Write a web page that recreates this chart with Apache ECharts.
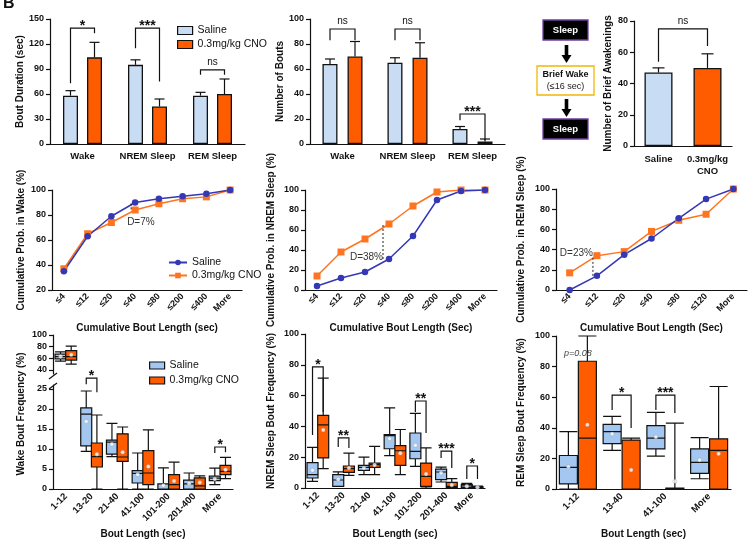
<!DOCTYPE html>
<html>
<head>
<meta charset="utf-8">
<script src="https://cdn.jsdelivr.net/npm/echarts@6/dist/echarts.min.js"></script>
<style>
  html, body { margin: 0; padding: 0; background: #fff; }
  #chart { width: 753px; height: 540px; }
</style>
</head>
<body>
<div id="chart"></div>
<script>
// ---------- data ----------
// top row: mean +/- sem
const stateCats = ['Wake', 'NREM Sleep', 'REM Sleep'];
const durSaline = [58, 95, 58];
const durSalineSem = [6, 6, 4];
const durCno = [104, 45, 60];
const durCnoSem = [18, 9, 18];
const boutSaline = [64, 65, 12];
const boutSalineSem = [4, 4, 2];
const boutCno = [70, 69, 2];
const boutCnoSem = [12, 12, 2];
const awakeCats = ['Saline', '0.3mg/kg\nCNO'];
const awakeVals = [47, 50];
const awakeSem = [3, 9];

// middle row: cumulative probability (%)
const cumCats = ['≤4', '≤12', '≤20', '≤40', '≤80', '≤200', '≤400', 'More'];
const cumRemCats = ['≤4', '≤12', '≤20', '≤40', '≤80', '≤120', 'More'];
const cumWakeSaline = [35, 63, 79, 90, 93, 95, 97, 100];
const cumWakeCno = [37, 65, 74, 84, 89, 93, 94.5, 100];
const cumNremSaline = [4, 12, 18, 31, 54, 90, 99, 100];
const cumNremCno = [14, 38, 51, 66, 84, 98, 100, 100];
const cumRemSaline = [0, 14, 35, 51, 71, 90, 100];
const cumRemCno = [17, 34, 38, 58, 69, 75, 100];

// bottom row: boxes [min, Q1, median, Q3, max] and means
const binCats = ['1-12', '13-20', '21-40', '41-100', '101-200', '201-400', 'More'];
const remBinCats = ['1-12', '13-40', '41-100', 'More'];
const wakeShortSaline = [[55, 59, 63, 67, 71]];
const wakeShortCno = [[50, 57, 63, 73, 81]];
const wakeBoxSaline = [
  [9.4, 10.8, 18.7, 20.3, 24.5], [8.1, 8.7, 11.7, 12.2, 16.4], [0, 1.5, 3.9, 4.6, 9.0],
  [0, 0, 0, 1.3, 5.3], [0, 0, 1.3, 2.2, 4.0], [1.1, 2.1, 2.7, 3.2, 5.2]
];
const wakeBoxCno = [
  [0, 5.5, 8.1, 11.5, 18.5], [0, 6.9, 8.0, 13.8, 15.5], [0, 1.1, 4.0, 9.6, 14.8],
  [0, 0, 1.1, 3.6, 6.7], [0, 0, 0.8, 2.8, 3.3], [2.6, 3.6, 4.4, 5.9, 7.9]
];
const wakeMeanSaline = [63, 16.9, 11.2, 3.6, 0.9, 1.4, 2.5];
const wakeMeanCno = [66, 8.7, 9.2, 5.6, 2.0, 1.6, 4.8];
const nremBoxSaline = [
  [4.3, 6.5, 8.7, 16.5, 26.4], [1, 1.1, 5.2, 8.7, 10.5], [8.7, 11.5, 13.4, 14.7, 20.1],
  [21, 25.5, 34, 34.6, 52], [14.1, 19, 23.8, 35.7, 48.5], [3.9, 5.4, 10.4, 12.3, 13.6],
  [0, 0.3, 1.3, 2.2, 3]
];
const nremBoxCno = [
  [12.6, 19.5, 41, 47.2, 71.4], [8.2, 10.2, 12.6, 14.3, 22.7], [8.7, 13.4, 15.2, 16.2, 27],
  [8.7, 14.7, 24.2, 27.5, 38], [0, 1.1, 7.6, 16.2, 26], [0, 0.4, 1.1, 3.7, 6.1],
  [0, 0, 0.4, 0.9, 1.2]
];
const nremMeanSaline = [11.5, 5.5, 13, 32, 27.7, 9.7, 1.2];
const nremMeanCno = [37.7, 13, 15, 22.5, 9.1, 1.9, 0.5];
const remBoxSaline = [[0, 3.3, 14.1, 21.9, 37.5], [25.2, 29.7, 37.5, 42.3, 47.5], [21.5, 26.2, 33.2, 41.4, 50.1], [6.7, 10.2, 17.4, 26.2, 33.6]];
const remBoxCno = [[0, 0, 33.2, 83.5, 100], [0, 0, 0, 32, 33.2], [0, 0, 0, 0.6, 43], [0, 0, 25.3, 32.8, 67]];
const remMeanSaline = [14.5, 36, 34, 19];
const remMeanCno = [42, 12.4, 5, 23];

// significance brackets: [leftCat, rightCat, top, leftLegEnd, rightLegEnd]
const durSig = [[0, 0, 139, 73, 133], [1, 1, 139, 115, 75], [2, 2, 89, 83, 83]];
const durSigText = ['*', '***', 'ns'];
const boutSig = [[0, 0, 92, 83, 83], [1, 1, 92, 83, 83], [2, 2, 24, 19, 3]];
const boutSigText = ['ns', 'ns', '***'];
const awakeSig = [[0, 1, 75, 54, 64]];
const awakeSigText = ['ns'];
const wakeSig = [[1, 1, 27.7, 26.2, 24.2], [6, 6, 10.5, 9, 9.2]];
const wakeSigText = ['*', '*'];
const nremSig = [[0, 0, 78.6, 34.4, 49.4], [1, 1, 32.5, 26.6, 26], [4, 4, 56.5, 49.4, 35.7], [5, 5, 24, 19.5, 13], [6, 6, 14.3, 5.8, 5.8]];
const nremSigText = ['*', '**', '**', '***', '*'];
const remSig = [[1, 1, 61.4, 51.6, 39.9], [2, 2, 61.4, 51.6, 49.7]];
const remSigText = ['*', '***'];

// ---------- chart ----------
const chart = echarts.init(document.getElementById('chart'));

const INK = '#111';
const F = '"Liberation Sans", Arial, sans-serif';
const SAL_BAR = '#C8DCF4';
const SAL_BOX = '#A3C7F1';
const CNO = '#FF5C00';
const BLUE = '#3438B4';
const ORANGE = '#FF7420';

const grids = [
  { left: 50, top: 19, width: 195, height: 125 },
  { left: 310, top: 19, width: 195, height: 125 },
  { left: 634, top: 21, width: 98, height: 125 },
  { left: 52, top: 190, width: 190, height: 100 },
  { left: 305, top: 190, width: 192, height: 100 },
  { left: 556, top: 189, width: 191, height: 101 },
  { left: 53, top: 335, width: 180, height: 39 },
  { left: 53, top: 385, width: 180, height: 104 },
  { left: 305, top: 334, width: 180, height: 154 },
  { left: 556, top: 336, width: 175, height: 153 }
].map(g => Object.assign({ outerBoundsMode: 'none' }, g));

const boldName = { color: INK, fontFamily: F, fontWeight: 'bold', fontSize: 10 };

function xCat(gi, data, label, extra) {
  return Object.assign({
    type: 'category', gridIndex: gi, data,
    axisLine: { lineStyle: { color: INK, width: 1.2 } },
    axisTick: { alignWithLabel: true, length: 4, lineStyle: { color: INK, width: 1.2 } },
    axisLabel: Object.assign({ color: INK, fontFamily: F, fontWeight: 'bold', fontSize: 9.5, margin: 6, interval: 0 }, label),
    nameLocation: 'middle', nameTextStyle: boldName
  }, extra);
}

function yVal(gi, min, max, interval, name, gap, extra) {
  return Object.assign({
    type: 'value', gridIndex: gi, min, max, interval,
    name, nameLocation: 'middle', nameGap: gap, nameTextStyle: boldName,
    axisLine: { show: true, lineStyle: { color: INK, width: 1.2 } },
    axisTick: { show: true, length: 4, lineStyle: { color: INK, width: 1.2 } },
    axisLabel: { color: INK, fontFamily: F, fontWeight: 'bold', fontSize: 9, margin: 6 },
    splitLine: { show: false }
  }, extra);
}

const rot2 = { rotate: 45, fontSize: 9, margin: 5 };
const rot3 = { rotate: 45, fontSize: 9.5, margin: 6 };

const xAxes = [
  xCat(0, stateCats, { margin: 7 }),
  xCat(1, stateCats, { margin: 7 }),
  xCat(2, awakeCats, { margin: 7, lineHeight: 12 }),
  xCat(3, cumCats, rot2, { name: 'Cumulative Bout Length (sec)', nameGap: 33 }),
  xCat(4, cumCats, rot2, { name: 'Cumulative Bout Length (Sec)', nameGap: 33 }),
  xCat(5, cumRemCats, rot2, { name: 'Cumulative Bout Length (Sec)', nameGap: 33 }),
  xCat(6, binCats, {}, { show: false }),
  xCat(7, binCats, rot3, { name: 'Bout Length (sec)', nameGap: 40 }),
  xCat(8, binCats, rot3, { name: 'Bout Length (sec)', nameGap: 41 }),
  xCat(9, remBinCats, rot3, { name: 'Bout Length (sec)', nameGap: 40 })
];

const yAxes = [
  yVal(0, 0, 150, 30, 'Bout Duration (sec)', 15),
  yVal(1, 0, 100, 20, 'Number of Bouts', 15),
  yVal(2, 0, 80, 20, 'Number of Brief Awakenings', 21),
  yVal(3, 20, 100, 20, 'Cumulative Prob. in Wake (%)', 26),
  yVal(4, 0, 100, 20, 'Cumulative Prob. in NREM Sleep (%)', 29),
  yVal(5, 0, 100, 20, 'Cumulative Prob. in REM Sleep (%)', 30),
  yVal(6, 33, 100, null, '', 0, {
    axisLabel: { color: INK, fontFamily: F, fontWeight: 'bold', fontSize: 9, margin: 6, customValues: [40, 60, 80, 100] },
    axisTick: { show: true, length: 4, lineStyle: { color: INK, width: 1.2 }, customValues: [40, 60, 80, 100] }
  }),
  yVal(7, 0, 26, null, '', 0, {
    axisLabel: { color: INK, fontFamily: F, fontWeight: 'bold', fontSize: 9, margin: 6, customValues: [0, 5, 10, 15, 20, 25] },
    axisTick: { show: true, length: 4, lineStyle: { color: INK, width: 1.2 }, customValues: [0, 5, 10, 15, 20, 25] }
  }),
  yVal(8, 0, 100, 20, 'NREM Sleep Bout Frequency (%)', 29),
  yVal(9, 0, 100, 20, 'REM Sleep Bout Frequency (%)', 30)
];

// ---------- series helpers ----------
function barSeries(name, gi, data, color, gap) {
  return {
    type: 'bar', name, xAxisIndex: gi, yAxisIndex: gi, data, barWidth: 15, barGap: gap,
    itemStyle: { color, borderColor: INK, borderWidth: 1.3 }, emphasis: { disabled: true }, z: 2
  };
}

function errSeries(gi, vals, sems, dx, cap) {
  return {
    type: 'custom', xAxisIndex: gi, yAxisIndex: gi, silent: true, z: 5,
    data: vals.map((v, i) => [i, v, v + sems[i]]),
    renderItem(params, api) {
      const a = api.coord([api.value(0), api.value(1)]);
      const b = api.coord([api.value(0), api.value(2)]);
      const x = a[0] + dx;
      const st = { stroke: INK, lineWidth: 1.2 };
      return {
        type: 'group', children: [
          { type: 'line', shape: { x1: x, y1: a[1], x2: x, y2: b[1] }, style: st },
          { type: 'line', shape: { x1: x - cap, y1: b[1], x2: x + cap, y2: b[1] }, style: st }
        ]
      };
    }
  };
}

function sigSeries(gi, items, labels, dxL, dxR) {
  return {
    type: 'custom', xAxisIndex: gi, yAxisIndex: gi, silent: true, z: 8, clip: false,
    data: items,
    renderItem(params, api) {
      const t = api.coord([api.value(0), api.value(2)]);
      const l = api.coord([api.value(0), api.value(3)]);
      const r = api.coord([api.value(1), api.value(4)]);
      const xl = l[0] + dxL, xr = r[0] + dxR;
      const txt = labels[params.dataIndex];
      const ns = txt === 'ns';
      return {
        type: 'group', children: [
          { type: 'polyline', shape: { points: [[xl, l[1]], [xl, t[1]], [xr, t[1]], [xr, r[1]]] },
            style: { stroke: INK, lineWidth: 1.2, fill: null } },
          { type: 'text', x: (xl + xr) / 2, y: ns ? t[1] - 3 : t[1] + 5,
            style: { text: txt, align: 'center', verticalAlign: 'bottom', fontFamily: F,
              fontSize: ns ? 10 : 14, fontWeight: ns ? 'normal' : 'bold', fill: INK } }
        ]
      };
    }
  };
}

// dotted D line: [cat, y1, y2]
function dLine(gi, item, dx) {
  return {
    type: 'custom', xAxisIndex: gi, yAxisIndex: gi, silent: true, z: 7, data: [item],
    renderItem(params, api) {
      const a = api.coord([api.value(0), api.value(1)]);
      const b = api.coord([api.value(0), api.value(2)]);
      return { type: 'line', shape: { x1: a[0] + dx, y1: a[1], x2: a[0] + dx, y2: b[1] },
        style: { stroke: '#222', lineWidth: 1, lineDash: [2, 2] } };
    }
  };
}

// text note at [cat, value]
function note(gi, item, text, dx, align, extraStyle) {
  return {
    type: 'custom', xAxisIndex: gi, yAxisIndex: gi, silent: true, z: 7, clip: false, data: [item],
    renderItem(params, api) {
      const p = api.coord([api.value(0), api.value(1)]);
      return { type: 'text', x: p[0] + dx, y: p[1],
        style: Object.assign({ text, align, verticalAlign: 'middle', fontFamily: F, fontSize: 10, fill: '#333' }, extraStyle) };
    }
  };
}

function cumSeries(name, gi, data, color, symbol) {
  return {
    type: 'line', name, xAxisIndex: gi, yAxisIndex: gi, data, symbol,
    symbolSize: symbol === 'rect' ? 7 : 6.5,
    lineStyle: { color, width: 1.5 }, itemStyle: { color }, emphasis: { disabled: true }, z: 4
  };
}

function boxSeries(name, gi, data, fill, w) {
  return {
    type: 'boxplot', name, xAxisIndex: gi, yAxisIndex: gi, data, boxWidth: [w, w],
    itemStyle: { color: fill, borderColor: INK, borderWidth: 1.2 }, emphasis: { disabled: true }, z: 3
  };
}

function meanSeries(gi, means, dx, start) {
  return {
    type: 'scatter', xAxisIndex: gi, yAxisIndex: gi, silent: true, z: 6,
    data: means.map((v, i) => [i + start, v]),
    symbol: 'circle', symbolSize: 4, symbolOffset: [dx, 0],
    itemStyle: { color: '#fff', borderColor: '#888', borderWidth: 0.4 }
  };
}

// offset of the two boxes from the category centre (ECharts boxplot layout)
function boxOff(gi, n) {
  const bw = grids[gi].width / n;
  return 0.2875 * (0.8 * bw - 2);
}
const o7 = boxOff(7, binCats.length);
const o8 = boxOff(8, binCats.length);
const o9 = boxOff(9, remBinCats.length);
const gapRow = ['-', '-', '-', '-', '-'];

const series = [
  // panel: bout duration
  barSeries('Saline|bar', 0, durSaline, SAL_BAR, '60%'),
  barSeries('0.3mg/kg CNO|bar', 0, durCno, CNO, '60%'),
  errSeries(0, durSaline, durSalineSem, -12, 5),
  errSeries(0, durCno, durCnoSem, 12, 5),
  sigSeries(0, durSig, durSigText, -12, 12),
  // panel: number of bouts
  barSeries('Saline|bar', 1, boutSaline, SAL_BAR, '67%'),
  barSeries('0.3mg/kg CNO|bar', 1, boutCno, CNO, '67%'),
  errSeries(1, boutSaline, boutSalineSem, -12.5, 5),
  errSeries(1, boutCno, boutCnoSem, 12.5, 5),
  sigSeries(1, boutSig, boutSigText, -12.5, 12.5),
  // panel: brief awakenings
  {
    type: 'bar', name: 'awake', xAxisIndex: 2, yAxisIndex: 2, barWidth: 28, z: 2,
    data: awakeVals.map((v, i) => ({ value: v, itemStyle: { color: i ? CNO : SAL_BAR } })),
    itemStyle: { borderColor: INK, borderWidth: 1.3 }, emphasis: { disabled: true }
  },
  errSeries(2, awakeVals, awakeSem, 0, 6),
  sigSeries(2, awakeSig, awakeSigText, 0, 0),
  // cumulative panels
  cumSeries('0.3mg/kg CNO|cum', 3, cumWakeCno, ORANGE, 'rect'),
  cumSeries('Saline|cum', 3, cumWakeSaline, BLUE, 'circle'),
  dLine(3, [3, 84.5, 89.5], -4),
  note(3, [3, 74.5], 'D=7%', -8, 'left'),
  cumSeries('0.3mg/kg CNO|cum', 4, cumNremCno, ORANGE, 'rect'),
  cumSeries('Saline|cum', 4, cumNremSaline, BLUE, 'circle'),
  dLine(4, [3, 31, 66], -6),
  note(4, [3, 33], 'D=38%', -6, 'right'),
  cumSeries('0.3mg/kg CNO|cum', 5, cumRemCno, ORANGE, 'rect'),
  cumSeries('Saline|cum', 5, cumRemSaline, BLUE, 'circle'),
  dLine(5, [1, 14, 34], -4),
  note(5, [1, 36], 'D=23%', -4, 'right'),
  // wake bout frequency (broken axis)
  boxSeries('Saline|box', 6, wakeShortSaline, SAL_BOX, 11),
  boxSeries('0.3mg/kg CNO|box', 6, wakeShortCno, CNO, 11),
  meanSeries(6, wakeMeanSaline.slice(0, 1), -o7, 0),
  meanSeries(6, wakeMeanCno.slice(0, 1), o7, 0),
  boxSeries('Saline|box', 7, [gapRow].concat(wakeBoxSaline), SAL_BOX, 11),
  boxSeries('0.3mg/kg CNO|box', 7, [gapRow].concat(wakeBoxCno), CNO, 11),
  meanSeries(7, wakeMeanSaline.slice(1), -o7, 1),
  meanSeries(7, wakeMeanCno.slice(1), o7, 1),
  sigSeries(7, wakeSig, wakeSigText, -o7, o7),
  // NREM bout frequency
  boxSeries('Saline|box', 8, nremBoxSaline, SAL_BOX, 11),
  boxSeries('0.3mg/kg CNO|box', 8, nremBoxCno, CNO, 11),
  meanSeries(8, nremMeanSaline, -o8, 0),
  meanSeries(8, nremMeanCno, o8, 0),
  sigSeries(8, nremSig, nremSigText, -o8, o8),
  // REM bout frequency
  boxSeries('Saline|box', 9, remBoxSaline, SAL_BOX, 18),
  boxSeries('0.3mg/kg CNO|box', 9, remBoxCno, CNO, 18),
  meanSeries(9, remMeanSaline, -o9, 0),
  meanSeries(9, remMeanCno, o9, 0),
  sigSeries(9, remSig, remSigText, -o9, o9),
  note(9, [0, 88.5], 'p=0.08', 0, 'center', { fontStyle: 'italic', fontSize: 9, fill: '#444' })
];

const legendText = { color: INK, fontFamily: F, fontSize: 10.5 };
const strip = n => n.split('|')[0];

const legends = [
  {
    left: 172, top: 20, orient: 'vertical', itemWidth: 15, itemHeight: 8, itemGap: 3,
    selectedMode: false, textStyle: legendText, formatter: strip,
    data: [
      { name: 'Saline|bar', icon: 'rect', itemStyle: { color: SAL_BAR, borderColor: INK, borderWidth: 1.2 } },
      { name: '0.3mg/kg CNO|bar', icon: 'rect', itemStyle: { color: CNO, borderColor: INK, borderWidth: 1.2 } }
    ]
  },
  {
    left: 163, top: 252, orient: 'vertical', itemWidth: 18, itemHeight: 7, itemGap: 2,
    selectedMode: false, textStyle: legendText, formatter: strip,
    data: ['Saline|cum', '0.3mg/kg CNO|cum']
  },
  {
    left: 144, top: 355, orient: 'vertical', itemWidth: 15, itemHeight: 7, itemGap: 4,
    selectedMode: false, textStyle: legendText, formatter: strip,
    data: [
      { name: 'Saline|box', icon: 'rect', itemStyle: { color: SAL_BOX, borderColor: INK, borderWidth: 1.2 } },
      { name: '0.3mg/kg CNO|box', icon: 'rect', itemStyle: { color: CNO, borderColor: INK, borderWidth: 1.2 } }
    ]
  }
];

// flow diagram + loose text
function box(x, y, w, h, fill, stroke) {
  return { type: 'rect', shape: { x, y, width: w, height: h }, style: { fill, stroke, lineWidth: 1.3 } };
}
function arrow(cx, y0, y1) {
  const hy = y1 - 8;
  return {
    type: 'polygon',
    shape: { points: [[cx - 1.8, y0], [cx + 1.8, y0], [cx + 1.8, hy], [cx + 5, hy], [cx, y1], [cx - 5, hy], [cx - 1.8, hy]] },
    style: { fill: '#000' }
  };
}
function label(x, y, text, font, fill) {
  return { type: 'text', x, y, style: { text, align: 'center', verticalAlign: 'middle', font, fill } };
}

const graphic = [
  { type: 'text', x: 3, y: -4, style: { text: 'B', font: 'bold 16px ' + F, fill: INK } },
  box(543, 20, 45, 20, '#000', '#6E3FA0'),
  label(565.5, 30.5, 'Sleep', 'bold 9.5px ' + F, '#fff'),
  arrow(566.5, 45, 63),
  box(537, 66, 57, 29, '#fff', '#F2B705'),
  label(565.5, 75, 'Brief Wake', 'bold 9px ' + F, INK),
  label(565.5, 87, '(≤16 sec)', '9px ' + F, '#222'),
  arrow(566.5, 99, 117),
  box(543, 119, 45, 20, '#000', '#6E3FA0'),
  label(565.5, 129.5, 'Sleep', 'bold 9.5px ' + F, '#fff'),
  { type: 'text', x: 21, y: 414, rotation: Math.PI / 2,
    style: { text: 'Wake Bout Frequency (%)', align: 'center', verticalAlign: 'middle', font: 'bold 10px ' + F, fill: INK } },
  { type: 'line', shape: { x1: 49, y1: 379, x2: 57, y2: 373 }, style: { stroke: INK, lineWidth: 1.2 } },
  { type: 'line', shape: { x1: 49, y1: 389, x2: 57, y2: 383 }, style: { stroke: INK, lineWidth: 1.2 } }
];

chart.setOption({
  animation: false,
  backgroundColor: '#fff',
  textStyle: { fontFamily: F },
  grid: grids,
  xAxis: xAxes,
  yAxis: yAxes,
  legend: legends,
  graphic,
  series
});
</script>
</body>
</html>
